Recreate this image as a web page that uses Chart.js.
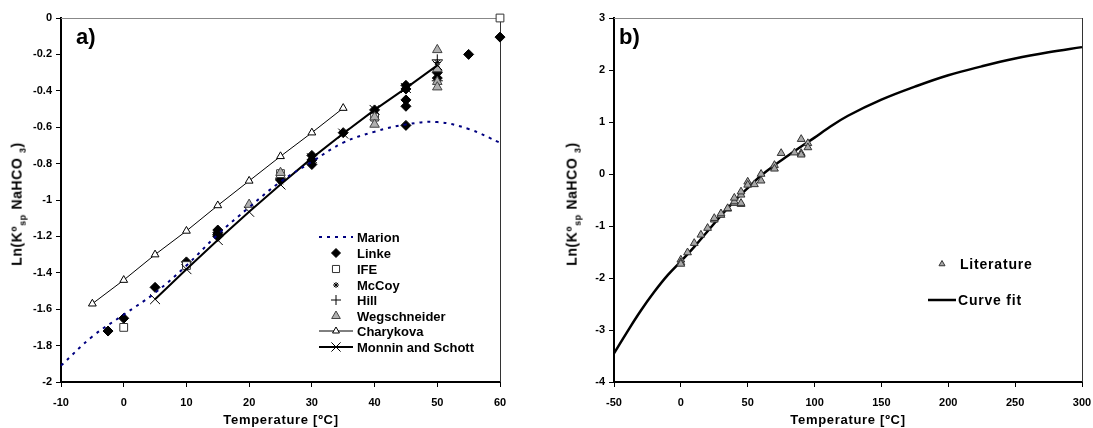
<!DOCTYPE html>
<html>
<head>
<meta charset="utf-8">
<script src="https://cdn.jsdelivr.net/npm/chart.js@4.4.0/dist/chart.umd.min.js"></script>
<style>
  body { margin: 0; background: #fff; width: 1093px; height: 428px; position: relative; overflow: hidden;
         font-family: 'Liberation Sans', Arial, sans-serif; }
  canvas { position: absolute; top: 0; }
  #chartA { left: 0; }
  #chartB { left: 546px; }
  .ytitle { position: absolute; font-weight: bold; font-size: 14px; white-space: nowrap; letter-spacing: 0.6px;
            transform: translate(-50%, -50%) rotate(-90deg); }
  .ytitle sub { font-size: 9px; }
  .xtitle { position: absolute; font-weight: bold; font-size: 13px; white-space: nowrap;
            transform: translate(-50%, -50%); letter-spacing: 0.7px; }
  .panel { position: absolute; font-weight: bold; font-size: 22px; }
</style>
</head>
<body>
<canvas id="chartA" width="546" height="428"></canvas>
<canvas id="chartB" width="547" height="428"></canvas>
<div class="ytitle" style="left:18px;top:204px">Ln(Kº<sub>sp</sub> NaHCO <sub>3</sub>)</div>
<div class="ytitle" style="left:573px;top:204px">Ln(Kº<sub>sp</sub> NaHCO <sub>3</sub>)</div>
<div class="xtitle" style="left:281px;top:419px">Temperature [ºC]</div>
<div class="xtitle" style="left:848px;top:419px">Temperature [ºC]</div>
<div class="panel" style="left:76px;top:24px">a)</div>
<div class="panel" style="left:619px;top:24px">b)</div>
<script>
const FONT = "'Liberation Sans', Arial, sans-serif";

// ---- panel a) ----
const marionT = [-10, -5, 0, 5, 10, 15, 20, 25, 30, 35, 40, 45, 50, 55, 60, 61];
const marionLnK = [-1.91, -1.75, -1.63, -1.51, -1.36, -1.19, -1.04, -0.9, -0.79, -0.685, -0.625, -0.585, -0.572, -0.61, -0.685, -0.7];
const linkeT = [-2.5, 0, 5, 10, 15, 15, 15, 15, 25, 30, 30, 30, 35, 40, 45, 45, 45, 45, 45, 50, 50, 55, 60];
const linkeLnK = [-1.72, -1.65, -1.48, -1.34, -1.165, -1.18, -1.19, -1.2, -0.89, -0.755, -0.78, -0.805, -0.63, -0.505,
                  -0.37, -0.39, -0.45, -0.485, -0.59, -0.3, -0.33, -0.2, -0.105];
const ifeT = [0, 10, 25, 40, 60];
const ifeLnK = [-1.7, -1.36, -0.855, -0.545, 0];
const mccoyT = [25, 30, 40, 50];
const mccoyLnK = [-0.9, -0.77, -0.52, -0.245];
const hillT = [25, 50, 50];
const hillLnK = [-0.88, -0.23, -0.345];
const wegT = [20, 25, 40, 40, 50, 50, 50, 50];
const wegLnK = [-1.025, -0.85, -0.545, -0.585, -0.175, -0.28, -0.35, -0.38];
const charT = [-5, 0, 5, 10, 15, 20, 25, 30, 35];
const charLnK = [-1.57, -1.44, -1.3, -1.17, -1.03, -0.895, -0.76, -0.63, -0.495];
const monT = [5, 10, 15, 20, 25, 30, 35, 40, 45, 50];
const monLnK = [-1.545, -1.38, -1.22, -1.065, -0.915, -0.77, -0.635, -0.505, -0.385, -0.26];

// ---- panel b) ----
const fitT = [-50, -40, -30, -20, -10, 0, 10, 20, 30, 40, 50, 60, 70, 80, 90, 100, 110, 125, 150, 175, 200, 225, 250, 275, 300];
const fitLnK = [-3.45, -3.03, -2.63, -2.27, -1.95, -1.68, -1.4, -1.1, -0.8, -0.52, -0.27, -0.03, 0.17, 0.35, 0.53, 0.7,
                0.88, 1.12, 1.43, 1.68, 1.9, 2.07, 2.22, 2.34, 2.44];
const litT = [0, 0, 0, 5, 10, 15, 20, 25, 25, 30, 30, 35, 35, 40, 40, 40, 45, 45, 45, 45, 50, 50, 55, 60, 60,
              70, 70, 75, 85, 90, 90, 90, 95, 95];
const litLnK = [-1.65, -1.7, -1.73, -1.51, -1.33, -1.17, -1.04, -0.88, -0.85, -0.79, -0.76, -0.67, -0.66, -0.56, -0.53,
                -0.46, -0.58, -0.56, -0.4, -0.34, -0.15, -0.21, -0.2, 0, -0.13, 0.17, 0.1, 0.4, 0.41, 0.4, 0.37,
                0.67, 0.59, 0.51];

const pts = (xs, ys) => xs.map((x, i) => ({ x: x, y: ys[i] }));

function axis(min, max, step, pad, fmt) {
    return {
        type: 'linear', min: min, max: max,
        border: { display: true, color: '#000', width: 2 },
        grid: { display: true, drawOnChartArea: false, drawTicks: true, tickLength: 5, color: '#000', lineWidth: 1 },
        ticks: { stepSize: step, color: '#000', padding: pad, font: { family: FONT, size: 11, weight: 'bold' },
                 callback: fmt }
    };
}

// fixed axis sizes so the plot box lands where the original has it
const fixX = s => { s.height = 46; s.paddingLeft = 0; s.paddingRight = 0; };

const frame = {
    id: 'frame',
    beforeDatasetsDraw(chart) {
        const a = chart.chartArea, ctx = chart.ctx;
        ctx.save();
        ctx.lineWidth = 1;
        ctx.strokeStyle = '#888';
        ctx.beginPath();
        ctx.moveTo(a.left, a.top + 0.5);
        ctx.lineTo(a.right, a.top + 0.5);
        ctx.stroke();
        ctx.strokeStyle = '#333';
        ctx.beginPath();
        ctx.moveTo(a.right + 0.5, a.top);
        ctx.lineTo(a.right + 0.5, a.bottom);
        ctx.stroke();
        ctx.restore();
    }
};

// legend drawn at fixed spots inside the plot
function legendPlugin(entries, size, spacing) {
    return {
        id: 'boxLegend',
        afterDraw(chart) {
            const ctx = chart.ctx;
            ctx.save();
            ctx.font = 'bold ' + size + 'px ' + FONT;
            ctx.letterSpacing = spacing;
            ctx.textBaseline = 'middle';
            ctx.fillStyle = '#000';
            entries.forEach(e => {
                const ds = chart.data.datasets[e.ds];
                if (e.line) {
                    ctx.save();
                    ctx.strokeStyle = ds.borderColor;
                    ctx.lineWidth = ds.borderWidth;
                    ctx.setLineDash(ds.borderDash || []);
                    ctx.beginPath();
                    ctx.moveTo(e.x0, e.y);
                    ctx.lineTo(e.x1, e.y);
                    ctx.stroke();
                    ctx.restore();
                }
                if (e.mark) {
                    ctx.save();
                    ctx.fillStyle = ds.pointBackgroundColor;
                    ctx.strokeStyle = ds.pointBorderColor;
                    ctx.lineWidth = ds.pointBorderWidth;
                    Chart.helpers.drawPoint(ctx, { pointStyle: ds.pointStyle, radius: e.r || ds.pointRadius,
                        rotation: 0, borderWidth: ds.pointBorderWidth }, (e.x0 + e.x1) / 2, e.y);
                    ctx.restore();
                }
                ctx.fillStyle = '#000';
                ctx.fillText(e.text, e.tx, e.y + 1);
            });
            ctx.restore();
        }
    };
}

const oneDec = v => Number(v.toFixed(1)).toString();

new Chart(document.getElementById('chartA').getContext('2d'), {
    type: 'scatter',
    data: {
        datasets: [
            { label: 'Marion', data: pts(marionT, marionLnK), showLine: true, borderColor: '#000080', borderWidth: 2,
              borderDash: [3, 5], pointRadius: 0, tension: 0.4, clip: false },
            { label: 'Charykova', data: pts(charT, charLnK), showLine: true, borderColor: '#000', borderWidth: 1,
              pointStyle: 'triangle', pointRadius: 4.5, pointBackgroundColor: '#fff', pointBorderColor: '#000',
              pointBorderWidth: 1, clip: false },
            { label: 'Monnin and Schott', data: pts(monT, monLnK), showLine: true, borderColor: '#000', borderWidth: 2,
              pointStyle: 'crossRot', pointRadius: 7, pointBackgroundColor: '#000', pointBorderColor: '#000',
              pointBorderWidth: 1, clip: false },
            { label: 'Wegschneider', data: pts(wegT, wegLnK), showLine: false, pointStyle: 'triangle', pointRadius: 5.5,
              pointBackgroundColor: '#b0b0b0', pointBorderColor: '#444', pointBorderWidth: 1, clip: false },
            { label: 'IFE', data: pts(ifeT, ifeLnK), showLine: false, pointStyle: 'rect', pointRadius: 5.5,
              pointBackgroundColor: '#fff', pointBorderColor: '#333', pointBorderWidth: 1, clip: false },
            { label: 'Linke', data: pts(linkeT, linkeLnK), showLine: false, pointStyle: 'rectRot', pointRadius: 5,
              pointBackgroundColor: '#000', pointBorderColor: '#000', pointBorderWidth: 1, clip: false },
            { label: 'McCoy', data: pts(mccoyT, mccoyLnK), showLine: false, pointStyle: 'star', pointRadius: 3.5,
              pointBackgroundColor: '#000', pointBorderColor: '#000', pointBorderWidth: 1, clip: false },
            { label: 'Hill', data: pts(hillT, hillLnK), showLine: false, pointStyle: 'cross', pointRadius: 5.5,
              pointBackgroundColor: '#000', pointBorderColor: '#000', pointBorderWidth: 1, clip: false }
        ]
    },
    options: {
        responsive: false,
        animation: false,
        layout: { padding: { top: 18, right: 46, left: 0, bottom: 0 } },
        plugins: { legend: { display: false }, tooltip: { enabled: false } },
        scales: {
            x: Object.assign(axis(-10, 60, 10, 9), { afterFit: fixX }),
            y: Object.assign(axis(-2, 0, 0.2, 4, oneDec), { afterFit: s => { s.width = 61; } })
        }
    },
    plugins: [frame, legendPlugin([
        { ds: 0, line: true, mark: false, x0: 319, x1: 353, y: 237, tx: 357, text: 'Marion' },
        { ds: 5, line: false, mark: true, x0: 319, x1: 353, y: 253, tx: 357, text: 'Linke', r: 4.5 },
        { ds: 4, line: false, mark: true, x0: 319, x1: 353, y: 269, tx: 357, text: 'IFE', r: 5 },
        { ds: 6, line: false, mark: true, x0: 319, x1: 353, y: 285, tx: 357, text: 'McCoy', r: 3 },
        { ds: 7, line: false, mark: true, x0: 319, x1: 353, y: 300, tx: 357, text: 'Hill', r: 5 },
        { ds: 3, line: false, mark: true, x0: 319, x1: 353, y: 316, tx: 357, text: 'Wegschneider', r: 5 },
        { ds: 1, line: true, mark: true, x0: 319, x1: 353, y: 331, tx: 357, text: 'Charykova', r: 4 },
        { ds: 2, line: true, mark: true, x0: 319, x1: 353, y: 347, tx: 357, text: 'Monnin and Schott', r: 6.5 }
    ], 13, '0px')]
});

new Chart(document.getElementById('chartB').getContext('2d'), {
    type: 'scatter',
    data: {
        datasets: [
            { label: 'Literature', data: pts(litT, litLnK), showLine: false, pointStyle: 'triangle', pointRadius: 4.5,
              pointBackgroundColor: '#a8a8a8', pointBorderColor: '#333', pointBorderWidth: 1, clip: false },
            { label: 'Curve fit', data: pts(fitT, fitLnK), showLine: true, borderColor: '#000', borderWidth: 2.5,
              pointRadius: 0, tension: 0.4, clip: false }
        ]
    },
    options: {
        responsive: false,
        animation: false,
        layout: { padding: { top: 18, right: 11, left: 0, bottom: 0 } },
        plugins: { legend: { display: false }, tooltip: { enabled: false } },
        scales: {
            x: Object.assign(axis(-50, 300, 50, 9), { afterFit: fixX }),
            y: Object.assign(axis(-4, 3, 1, 4), { afterFit: s => { s.width = 68; } })
        }
    },
    plugins: [frame, legendPlugin([
        { ds: 0, line: false, mark: true, x0: 390, x1: 402, y: 264, tx: 414, text: 'Literature', r: 3.5 },
        { ds: 1, line: true, mark: false, x0: 382, x1: 410, y: 300, tx: 412, text: 'Curve fit' }
    ], 14, '0.8px')]
});
</script>
</body>
</html>
